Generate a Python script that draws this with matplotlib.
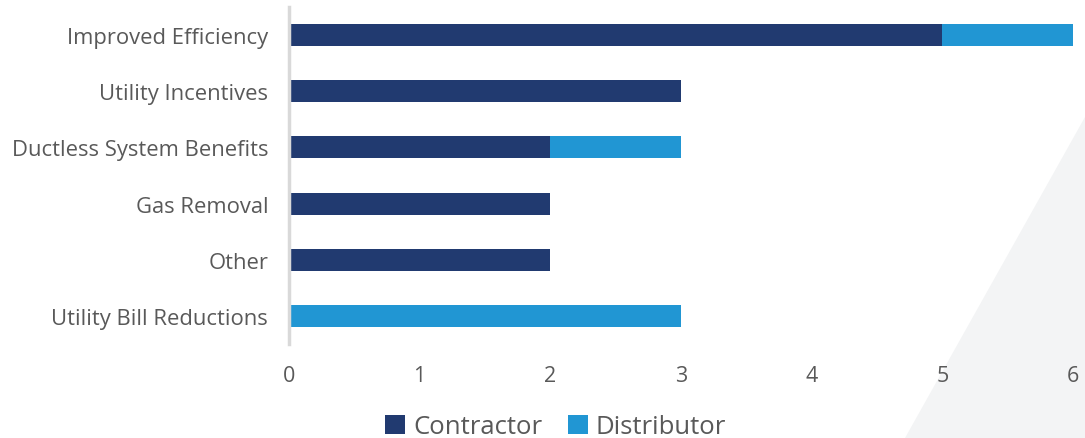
import matplotlib.pyplot as plt
from matplotlib.patches import Polygon

categories = ['Improved Efficiency', 'Utility Incentives', 'Ductless System Benefits',
              'Gas Removal', 'Other', 'Utility Bill Reductions']
contractor = [5, 3, 2, 2, 2, 0]
distributor = [1, 0, 1, 0, 0, 3]
x_ticks = [0, 1, 2, 3, 4, 5, 6]

NAVY = '#213a70'
BLUE = '#2196d3'
TEXT = '#595959'

plt.rcParams['font.family'] = ['Open Sans', 'DejaVu Sans']

fig = plt.figure(figsize=(10.85, 4.39), dpi=100)

# light background triangle in the lower right corner
fig.patches.append(Polygon([(905 / 1085, 0), (1085 / 1085, 0), (1085 / 1085, 1 - 118 / 439)],
                           closed=True, transform=fig.transFigure,
                           facecolor='#f3f4f5', edgecolor='none', zorder=-5))

ax = fig.add_axes([289 / 1085, 94 / 439, 784 / 1085, 337 / 439])
ax.patch.set_alpha(0)

y = list(range(len(categories)))
ax.barh(y, contractor, height=0.39, color=NAVY, label='Contractor')
ax.barh(y, distributor, left=contractor, height=0.39, color=BLUE, label='Distributor')

ax.set_xlim(0, 6)
ax.set_ylim(5.5, -0.5)
ax.set_xticks(x_ticks)
ax.set_yticks(y)
ax.set_yticklabels(categories)

for s in ['top', 'right', 'bottom']:
    ax.spines[s].set_visible(False)
ax.spines['left'].set_color('#d9d9d9')
ax.spines['left'].set_linewidth(2.5)

ax.tick_params(axis='both', length=0, colors=TEXT)
ax.tick_params(axis='x', pad=15, labelsize=15.5)
ax.tick_params(axis='y', pad=15, labelsize=15.8)

ax.legend(loc='upper center', bbox_to_anchor=(0.34, -0.14), ncol=2, frameon=False,
          fontsize=18.5, labelcolor=TEXT, handlelength=0.78, handleheight=0.78,
          handletextpad=0.3, columnspacing=1.0)

fig.savefig('out.png', dpi=100)
